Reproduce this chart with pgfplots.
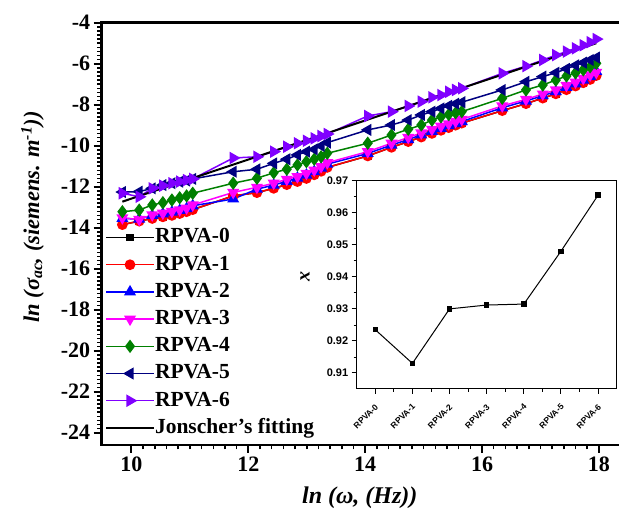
\documentclass[border=0pt]{standalone}
\usepackage{fontspec}
\setmainfont{Liberation Serif}
\newfontfamily\arialfont{Liberation Sans}
\usepackage{pgfplots}
\usepackage{pgfplotstable}
\pgfplotsset{compat=1.18}
\definecolor{cRed}{RGB}{255,0,0}
\definecolor{cBlue}{RGB}{0,0,255}
\definecolor{cMag}{RGB}{255,0,255}
\definecolor{cGreen}{RGB}{0,128,0}
\definecolor{cNavy}{RGB}{0,0,128}
\definecolor{cPurp}{RGB}{128,0,255}

\pgfplotstableread{
x r0 r1 r2 r3 r4 r5 r6
9.844 -13.85 -13.85 -13.55 -13.52 -13.22 -12.26 -12.32
10.132 -13.68 -13.68 -13.58 -13.60 -13.14 -12.24 -12.49
10.355 -13.55 -13.55 -13.40 -13.37 -12.89 -12.08 -12.08
10.537 -13.47 -13.47 -13.32 -13.29 -12.78 -11.92 -11.95
10.692 -13.40 -13.40 -13.24 -13.21 -12.65 -11.83 -11.83
10.825 -13.31 -13.31 -13.16 -13.13 -12.54 -11.76 -11.75
10.943 -13.22 -13.22 -13.07 -13.04 -12.45 -11.70 -11.68
11.048 -13.12 -13.12 -12.93 -12.89 -12.32 -11.62 -11.62
11.741 -12.45 -12.45 -12.60 -12.28 -11.83 -11.27 -10.60
12.147 -12.29 -12.29 -12.12 -12.03 -11.59 -11.15 -10.54
12.434 -12.08 -12.08 -11.92 -11.83 -11.32 -10.86 -10.29
12.658 -11.90 -11.90 -11.74 -11.64 -11.15 -10.66 -10.05
12.840 -11.75 -11.75 -11.58 -11.51 -10.94 -10.45 -9.88
12.994 -11.60 -11.60 -11.43 -11.35 -10.78 -10.29 -9.76
13.128 -11.42 -11.42 -11.26 -11.19 -10.66 -10.18 -9.64
13.246 -11.25 -11.25 -11.09 -11.02 -10.54 -10.01 -9.53
13.351 -11.06 -11.06 -10.90 -10.83 -10.37 -9.85 -9.43
14.044 -10.50 -10.50 -10.38 -10.29 -9.88 -9.23 -8.55
14.450 -10.08 -10.08 -9.97 -9.88 -9.48 -8.99 -8.34
14.737 -9.80 -9.80 -9.70 -9.60 -9.20 -8.75 -8.06
14.960 -9.58 -9.58 -9.47 -9.38 -8.99 -8.50 -7.85
15.143 -9.40 -9.40 -9.30 -9.20 -8.75 -8.34 -7.64
15.297 -9.25 -9.25 -9.15 -9.05 -8.59 -8.18 -7.53
15.430 -9.12 -9.12 -9.02 -8.93 -8.48 -8.05 -7.37
15.548 -9.00 -9.00 -8.92 -8.82 -8.40 -7.95 -7.28
15.653 -8.90 -8.90 -8.82 -8.72 -8.34 -7.88 -7.20
16.346 -8.29 -8.29 -8.15 -8.06 -7.69 -7.28 -6.47
16.752 -7.95 -7.95 -7.82 -7.74 -7.28 -6.88 -6.12
17.040 -7.68 -7.68 -7.56 -7.48 -7.04 -6.63 -5.82
17.263 -7.47 -7.47 -7.36 -7.28 -6.80 -6.44 -5.58
17.445 -7.27 -7.27 -7.15 -7.06 -6.60 -6.25 -5.41
17.600 -7.09 -7.09 -6.98 -6.90 -6.45 -6.08 -5.25
17.733 -6.93 -6.93 -6.80 -6.72 -6.30 -5.95 -5.10
17.851 -6.77 -6.77 -6.63 -6.55 -6.15 -5.82 -4.95
17.956 -6.58 -6.58 -6.38 -6.42 -5.98 -5.70 -4.80
}\datatable

\pgfplotstableread{
x y
9.844 -12.73
17.956 -5.00
}\fittable

\pgfplotstableread{
i chi
0 0.9235
1 0.9130
2 0.9300
3 0.9312
4 0.9315
5 0.9480
6 0.9655
}\insettable

\begin{document}
\begin{tikzpicture}
\useasboundingbox (0,0) rectangle (619pt,516pt);
\begin{axis}[
  at={(101.7pt,71pt)}, anchor=south west,
  scale only axis, width=520.3pt, height=422.3pt,
  xmin=9.49, xmax=18.396, ymin=-24.6, ymax=-4,
  xtick={10,12,14,16,18}, xticklabels={10,12,14,16,18},
  ytick={-24,-22,-20,-18,-16,-14,-12,-10,-8,-6,-4},
  yticklabels={-24,-22,-20,-18,-16,-14,-12,-10,-8,-6,-4},
  minor tick num=9,
  tick align=outside, xtick pos=bottom, ytick pos=left,
  axis line style={line width=2.5pt},
  major tick length=8pt, minor tick length=4.5pt,
  every major tick/.style={line width=2pt, black},
  every minor tick/.style={line width=1.5pt, black},
  /pgf/number format/assume math mode=true,
  tick label style={font=\rmfamily\bfseries\fontsize{22}{22}\selectfont},
  xlabel={\textbf{\textit{ln (ω, (Hz))}}},
  ylabel={\textbf{\textit{ln (σ\textsubscript{ac}, (siemens. m\textsuperscript{-1}))}}},
  xlabel style={font=\fontsize{24}{24}\selectfont, at={(axis description cs:0.496,-0.125)}, anchor=center},
  ylabel style={font=\fontsize{22.5}{22.5}\selectfont, at={(axis description cs:-0.133,0.54)}, anchor=center},
  legend cell align=left,
  legend style={at={(axis description cs:0.0064,0.5235)}, anchor=north west, draw=none, fill=none,
    inner sep=0pt, outer sep=0pt, row sep=0pt,
    font=\fontsize{21.5}{21.5}\selectfont\bfseries,
    nodes={inner sep=0pt, outer sep=0pt, text height=19pt, text depth=8.2pt},
    /tikz/every even column/.append style={column sep=10pt}},
  legend image code/.code={\draw[mark repeat=2,mark phase=2] plot coordinates {(0pt,0pt) (24pt,0pt) (48pt,0pt)};},
]
\addplot[color=black, line width=1.5pt, mark=square*, mark size=3pt, mark options={solid,fill=black}] table[x=x,y=r0]{\datatable};
\addlegendentry{RPVA-0}
\addplot[color=cRed, line width=1.5pt, mark=*, mark size=4.6pt, mark options={solid,fill=cRed}] table[x=x,y=r1]{\datatable};
\addlegendentry{RPVA-1}
\addplot[color=cBlue, line width=1.5pt, mark=triangle*, mark size=5.5pt, mark options={solid,fill=cBlue}] table[x=x,y=r2]{\datatable};
\addlegendentry{RPVA-2}
\addplot[color=cMag, line width=1.5pt, mark=triangle*, mark size=5.5pt, mark options={solid,fill=cMag,rotate=180}] table[x=x,y=r3]{\datatable};
\addlegendentry{RPVA-3}
\addplot[color=cGreen, line width=1.5pt, mark=diamond*, mark size=5.5pt, mark options={solid,fill=cGreen}] table[x=x,y=r4]{\datatable};
\addlegendentry{RPVA-4}
\addplot[color=cNavy, line width=1.5pt, mark=triangle*, mark size=5.5pt, mark options={solid,fill=cNavy,rotate=90}] table[x=x,y=r5]{\datatable};
\addlegendentry{RPVA-5}
\addplot[color=cPurp, line width=1.5pt, mark=triangle*, mark size=5.8pt, mark options={solid,fill=cPurp,rotate=-90}] table[x=x,y=r6]{\datatable};
\addlegendentry{RPVA-6}
\addplot[color=black, line width=2pt, no marks] table[x=x,y=y]{\fittable};
\addlegendentry{Jonscher's fitting}
\end{axis}

\begin{axis}[
  at={(356.7pt,127pt)}, anchor=south west,
  scale only axis, width=260pt, height=208.3pt,
  xmin=-0.5, xmax=6.5, ymin=0.905, ymax=0.97,
  xtick={0,1,2,3,4,5,6},
  xticklabels={RPVA-0,RPVA-1,RPVA-2,RPVA-3,RPVA-4,RPVA-5,RPVA-6},
  ytick={0.91,0.92,0.93,0.94,0.95,0.96,0.97},
  yticklabels={0.91,0.92,0.93,0.94,0.95,0.96,0.97},
  minor x tick num=1, minor y tick num=1,
  tick align=outside, xtick pos=bottom, ytick pos=left,
  axis line style={line width=1pt},
  major tick length=5pt, minor tick length=3pt,
  every major tick/.style={line width=1pt, black},
  every minor tick/.style={line width=0.8pt, black},
  axis background/.style={fill=white},
  yticklabel style={font=\arialfont\bfseries\fontsize{11}{11}\selectfont},
  xticklabel style={rotate=45, anchor=north east, inner sep=1pt, xshift=-6pt, yshift=-5pt, font=\arialfont\bfseries\fontsize{8.5}{8.5}\selectfont},
  ylabel={\textbf{\textit{x}}},
  ylabel style={font=\fontsize{20}{20}\selectfont, at={(axis description cs:-0.199,0.54)}, anchor=center},
]
\addplot[color=black, line width=1pt, mark=square*, mark size=2.2pt, mark options={solid,fill=black}] table[x=i,y=chi]{\insettable};
\end{axis}
\end{tikzpicture}
\end{document}
